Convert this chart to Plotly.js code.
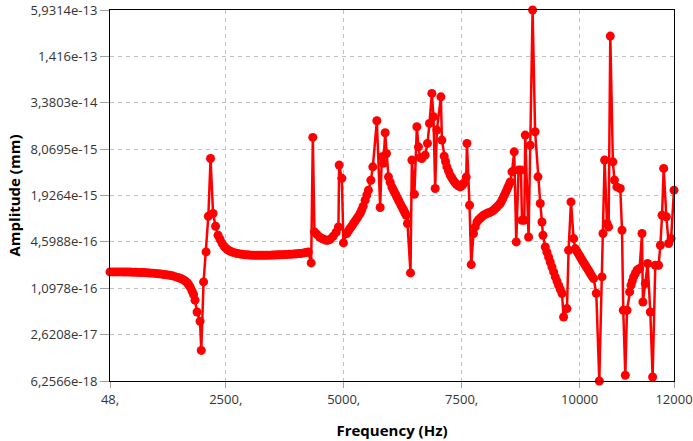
<!DOCTYPE html>
<html>
<head>
<meta charset="utf-8">
<script src="https://cdn.plot.ly/plotly-3.0.1.min.js"></script>
<style>html,body{margin:0;padding:0;background:#fff;}#chart{width:693px;height:441px;}</style>
</head>
<body>
<div id="chart"></div>
<script>
// Frequency (Hz)
const frequency = [
  48,110,170,230,290,350,410,470,530,590,650,710,770,830,890,950,1010,1070,1130,1190,1250,1310,1370,1430,1490,1530,1570,1610,1650,1690,1720,1750,1790,1820,1850,1893,1956,1982,
  2031,2084,2132,2179,2232,2285,2338,2380,2423,2465,2497,2529,2560,2600,2650,2700,2750,2800,2850,2900,2950,3000,3050,3100,3150,3200,3250,3300,3350,3400,3450,3500,3550,3600,3650,3700,3750,3800,3850,3900,3950,4000,4050,4100,4150,4200,4250,
  4311,4346,4381,4431,4487,4540,4580,4628,4670,4713,4777,4840,4889,4904,4961,4995,5067,5100,5137,5172,5207,5241,5275,5312,5349,5381,5413,5455,5490,5525,5576,5618,5703,
  5773,5809,5843,5879,5907,5949,5985,6021,6045,6070,6100,6127,6150,6176,6205,6233,6258,6282,6303,6324,6352,6416,6445,6499,6551,6585,6620,6657,6727,6776,6818,6869,6903,6939,6975,7060,
  7081,7130,7158,7187,7222,7257,7290,7321,7353,7385,7427,7469,7504,7539,7597,7612,7667,7703,7751,7787,7824,7858,7893,7928,7963,8003,8042,8073,8105,8140,8175,8209,8243,8280,8318,8344,8370,8396,8423,8450,8476,8503,8530,8566,8614,8657,8706,8757,8778,8827,8848,8918,8954,9003,
  9057,9117,9166,9202,9223,9272,9307,9342,9378,9414,9449,9484,9519,9554,9590,9626,9660,9732,9766,9817,9873,9908,9935,9961,9988,10014,10040,10067,10094,10120,10147,10173,10200,10226,10260,10296,10353,10417,10474,10495,10529,10580,10614,10650,
  10705,10738,10789,10862,10898,10925,10968,11004,11059,11089,11116,11144,11180,11216,11244,11271,11322,11341,11392,11441,11498,11547,11604,11674,11711,11747,11781,11838,11887,11938,12000
];
// Amplitude (mm)
const amplitude = [
  1.82e-16,1.82e-16,1.82e-16,1.82e-16,1.82e-16,1.81e-16,1.81e-16,1.81e-16,1.80e-16,1.80e-16,1.79e-16,1.785e-16,1.78e-16,1.77e-16,1.76e-16,1.75e-16,1.735e-16,1.72e-16,1.70e-16,1.68e-16,1.66e-16,1.64e-16,1.61e-16,1.57e-16,1.53e-16,1.50e-16,1.46e-16,1.42e-16,1.36e-16,1.29e-16,1.22e-16,1.13e-16,1.00e-16,9.0e-17,7.6e-17,5.28e-17,3.96e-17,1.61e-17,
  1.334e-16,3.37e-16,1.015e-15,6.05e-15,1.105e-15,7.46e-16,5.65e-16,4.98e-16,4.41e-16,4.01e-16,3.82e-16,3.66e-16,3.53e-16,3.43e-16,3.34e-16,3.27e-16,3.21e-16,3.17e-16,3.13e-16,3.10e-16,3.08e-16,3.06e-16,3.05e-16,3.04e-16,3.04e-16,3.04e-16,3.04e-16,3.04e-16,3.04e-16,3.05e-16,3.05e-16,3.06e-16,3.07e-16,3.08e-16,3.09e-16,3.10e-16,3.11e-16,3.12e-16,3.14e-16,3.15e-16,3.16e-16,3.18e-16,3.20e-16,3.22e-16,3.26e-16,3.31e-16,3.37e-16,
  2.40e-16,1.159e-14,6.24e-16,5.8e-16,5.35e-16,5.1e-16,4.99e-16,4.83e-16,4.85e-16,4.99e-16,5.47e-16,6.19e-16,7.29e-16,4.93e-15,3.27e-15,4.45e-16,5.95e-16,6.45e-16,7.00e-16,7.5e-16,8.10e-16,8.7e-16,9.39e-16,1.02e-15,1.106e-15,1.23e-15,1.383e-15,1.666e-15,1.95e-15,2.27e-15,3.09e-15,4.67e-15,1.936e-14,
  1.329e-15,6.36e-15,5.20e-15,1.336e-14,7.06e-15,3.43e-15,2.9e-15,2.51e-15,2.33e-15,2.17e-15,2.0e-15,1.845e-15,1.72e-15,1.591e-15,1.47e-15,1.354e-15,1.27e-15,1.185e-15,1.11e-15,1.048e-15,8.11e-16,1.762e-16,5.75e-15,2.00e-15,1.608e-14,8.66e-15,6.2e-15,6.05e-15,6.71e-15,9.63e-15,1.786e-14,4.51e-14,2.19e-14,2.39e-15,1.452e-14,4.06e-14,
  1.066e-14,6.50e-15,5.5e-15,4.67e-15,4.1e-15,3.62e-15,3.33e-15,3.10e-15,2.9e-15,2.74e-15,2.6e-15,2.51e-15,2.6e-15,2.79e-15,3.40e-15,9.63e-15,1.427e-15,2.28e-16,5.95e-16,7.3e-16,8.51e-16,9.1e-16,9.54e-16,1.0e-15,1.048e-15,1.08e-15,1.115e-15,1.13e-15,1.150e-15,1.18e-15,1.223e-15,1.28e-15,1.341e-15,1.42e-15,1.504e-15,1.62e-15,1.745e-15,1.9e-15,2.05e-15,2.24e-15,2.45e-15,2.68e-15,2.93e-15,4.00e-15,7.42e-15,4.59e-16,4.22e-15,4.22e-15,8.98e-16,8.98e-16,1.244e-14,5.35e-16,9.13e-15,5.9314e-13,
  1.378e-14,3.43e-15,1.504e-15,8.51e-16,5.64e-16,3.93e-16,3.35e-16,2.88e-16,2.47e-16,2.12e-16,1.82e-16,1.557e-16,1.37e-16,1.204e-16,1.06e-16,9.32e-17,4.51e-17,5.86e-17,3.55e-16,1.580e-15,5.09e-16,3.74e-16,3.5e-16,3.28e-16,3.08e-16,2.88e-16,2.7e-16,2.53e-16,2.38e-16,2.23e-16,2.1e-16,1.98e-16,1.85e-16,1.730e-16,1.6e-16,1.481e-16,9.41e-17,6.2566e-18,1.557e-16,5.95e-16,5.75e-15,8.11e-16,7.30e-16,2.65e-13,
  5.45e-15,3.10e-15,2.51e-15,2.39e-15,6.58e-16,5.57e-17,7.47e-18,5.57e-17,9.81e-17,1.204e-16,1.37e-16,1.557e-16,1.73e-16,1.914e-16,1.97e-16,2.02e-16,5.95e-16,7.19e-17,1.270e-16,2.36e-16,5.28e-17,7.07e-18,2.23e-16,2.23e-16,4.14e-16,1.048e-15,4.45e-15,9.98e-16,4.37e-16,5.09e-16,2.27e-15
];
const xTickVals = [48, 2500, 5000, 7500, 10000, 12000];
const xTickText = ["48,", "2500,", "5000,", "7500,", "10000", "12000"];
const yTickVals = [6.2566e-18, 2.6208e-17, 1.0978e-16, 4.5988e-16, 1.9264e-15, 8.0695e-15, 3.3803e-14, 1.416e-13, 5.9314e-13];
const yTickText = ["6,2566e-18", "2,6208e-17", "1,0978e-16", "4,5988e-16", "1,9264e-15", "8,0695e-15", "3,3803e-14", "1,416e-13", "5,9314e-13"];

const tickFont = {family: "Open Sans, sans-serif", size: 13, color: "#333"};
const titleFont = {family: "Open Sans, sans-serif", size: 15, color: "#000", weight: "bold"};

const trace = {
  x: frequency, y: amplitude, type: "scatter", mode: "lines+markers",
  line: {color: "#ff0000", width: 2.5},
  marker: {color: "#ff0000", size: 9, symbol: "circle"},
  cliponaxis: false, hoverinfo: "none"
};

const layout = {
  width: 693, height: 441,
  margin: {l: 110, r: 19, t: 10, b: 60},
  paper_bgcolor: "#fff", plot_bgcolor: "#fff",
  showlegend: false,
  xaxis: {
    range: [48, 12000], tickmode: "array", tickvals: xTickVals, ticktext: xTickText,
    showgrid: true, gridcolor: "#c0c0c0", griddash: "4px,4px", gridwidth: 1,
    zeroline: false, showline: true, linecolor: "#000", linewidth: 1, mirror: true,
    ticks: "outside", ticklen: 6, tickcolor: "#a0a0a0", tickfont: tickFont,
    title: {text: "Frequency (Hz)", font: titleFont, standoff: 18}
  },
  yaxis: {
    type: "log", range: [Math.log10(6.2566e-18), Math.log10(5.9314e-13)],
    tickmode: "array", tickvals: yTickVals, ticktext: yTickText,
    showgrid: true, gridcolor: "#c0c0c0", griddash: "4px,4px", gridwidth: 1,
    zeroline: false, showline: true, linecolor: "#000", linewidth: 1, mirror: true,
    ticks: "outside", ticklen: 9, tickcolor: "#a0a0a0", tickfont: tickFont,
    title: {text: "Amplitude (mm)", font: titleFont, standoff: 6}
  }
};

Plotly.newPlot("chart", [trace], layout, {staticPlot: true, displayModeBar: false});
</script>
</body>
</html>
